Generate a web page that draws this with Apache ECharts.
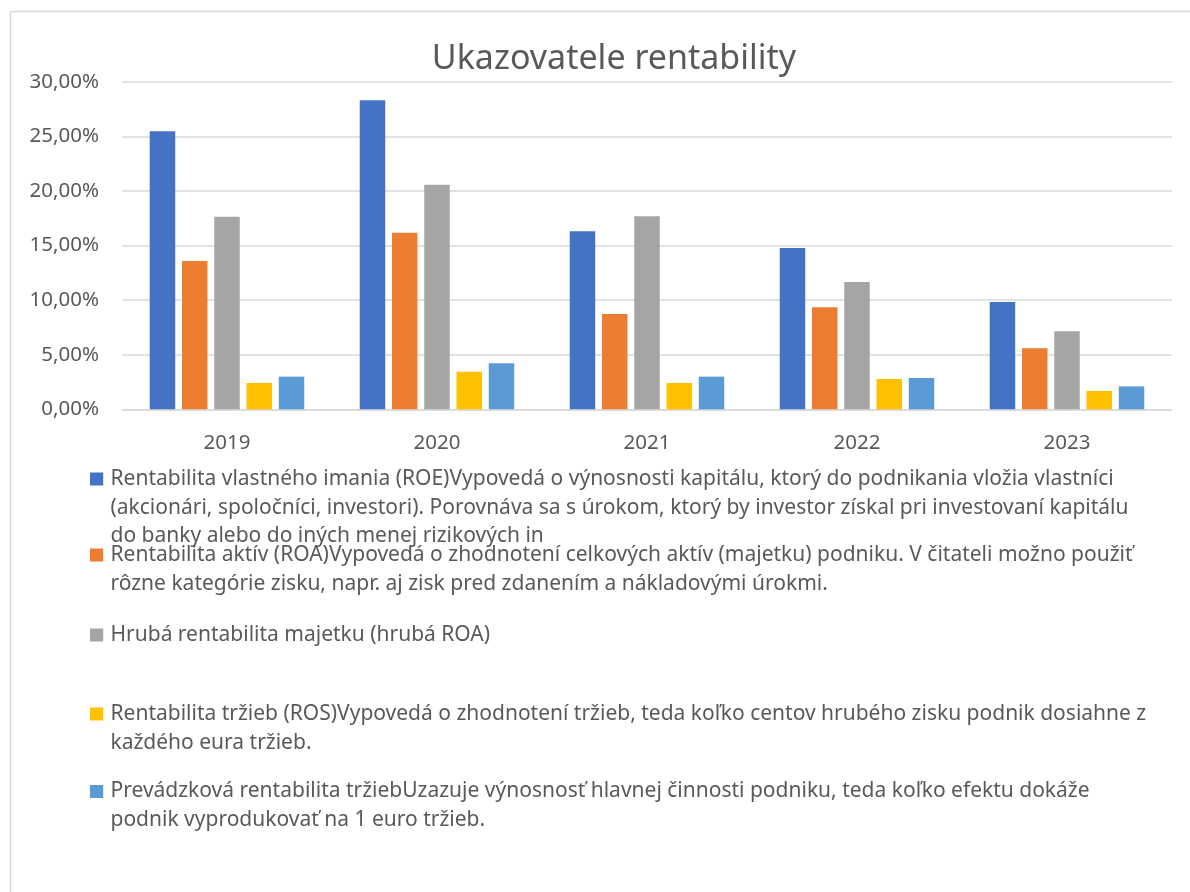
<!DOCTYPE html>
<html>
<head>
<meta charset="utf-8">
<script src="https://cdn.jsdelivr.net/npm/echarts@6/dist/echarts.min.js"></script>
<style>
html,body{margin:0;padding:0;background:#fff;}
#chart{width:1190px;height:892px;}
</style>
</head>
<body>
<div id="chart"></div>
<script>
const titleText = 'Ukazovatele rentability';
const categories = ['2019', '2020', '2021', '2022', '2023'];

const roe = [25.46, 28.30, 16.30, 14.77, 9.83];
const roa = [13.58, 16.17, 8.73, 9.34, 5.59];
const grossRoa = [17.64, 20.57, 17.67, 11.66, 7.14];
const ros = [2.41, 3.44, 2.41, 2.77, 1.68];
const operRos = [2.99, 4.21, 2.99, 2.87, 2.10];

const yTicks = { min: 0, max: 30, interval: 5 };

const legendLines1 = [
  'Rentabilita vlastného imania (ROE)Vypovedá o výnosnosti kapitálu, ktorý do podnikania vložia vlastníci',
  '(akcionári, spoločníci, investori). Porovnáva sa s úrokom, ktorý by investor získal pri investovaní kapitálu',
  'do banky alebo do iných menej rizikových in'
];
const legendLines2 = [
  'Rentabilita aktív (ROA)Vypovedá o zhodnotení celkových aktív (majetku) podniku. V čitateli možno použiť',
  'rôzne kategórie zisku, napr. aj zisk pred zdanením a nákladovými úrokmi.'
];
const legendLines3 = [
  'Hrubá rentabilita majetku (hrubá ROA)'
];
const legendLines4 = [
  'Rentabilita tržieb (ROS)Vypovedá o zhodnotení tržieb, teda koľko centov hrubého zisku podnik dosiahne z',
  'každého eura tržieb.'
];
const legendLines5 = [
  'Prevádzková rentabilita tržiebUzazuje výnosnosť hlavnej činnosti podniku, teda koľko efektu dokáže',
  'podnik vyprodukovať na 1 euro tržieb.'
];

const colors = ['#4472C4', '#ED7D31', '#A5A5A5', '#FFC000', '#5B9BD5'];
const FONT = '"Noto Sans", "Open Sans", sans-serif';
const TXT = '#595959';

const seriesDefs = [
  { lines: legendLines1, data: roe },
  { lines: legendLines2, data: roa },
  { lines: legendLines3, data: grossRoa },
  { lines: legendLines4, data: ros },
  { lines: legendLines5, data: operRos }
];
seriesDefs.forEach(d => { d.name = d.lines.join(' '); });

const LH = 28.6;
const SQ = 13.2;
const IW = 15.5;
const legendCenters = [479, 555, 635, 714, 791.5];
const wrapMap = {};
seriesDefs.forEach(d => { wrapMap[d.name] = d.lines.join('\n'); });

const legends = seriesDefs.map((d, i) => {
  const n = d.lines.length;
  const H = n * LH;
  const y0 = LH / 2 - SQ / 2;
  // square marker at the first text line; zero-area sub-paths stretch the icon box to the text block size
  const iconPath = 'path://M0,' + y0 + 'L' + SQ + ',' + y0 + 'L' + SQ + ',' + (y0 + SQ) + 'L0,' + (y0 + SQ) + 'Z'
    + 'M0,0L0.001,0L0,0Z' + 'M' + IW + ',' + H + 'L' + (IW - 0.001) + ',' + H + 'L' + IW + ',' + H + 'Z';
  return {
    data: [d.name],
    left: 90,
    top: legendCenters[i] - LH / 2,
    padding: 0,
    icon: iconPath,
    itemWidth: IW,
    itemHeight: H,
    selectedMode: false,
    formatter: name => wrapMap[name],
    textStyle: {
      fontFamily: FONT,
      fontSize: 21,
      color: TXT,
      lineHeight: LH
    }
  };
});

const chart = echarts.init(document.getElementById('chart'), null, { renderer: 'canvas' });
chart.setOption({
  backgroundColor: '#ffffff',
  animation: false,
  color: colors,
  textStyle: { fontFamily: FONT },
  graphic: [
    { type: 'line', shape: { x1: 10.5, y1: 11.5, x2: 10.5, y2: 892 }, style: { stroke: '#d9d9d9', lineWidth: 1.5 } },
    { type: 'line', shape: { x1: 10, y1: 11.5, x2: 1190, y2: 11.5 }, style: { stroke: '#d9d9d9', lineWidth: 1.5 } },
    { type: 'text', x: 614, y: 59, style: { text: titleText, fontFamily: FONT, fontSize: 34, fill: TXT, align: 'center', verticalAlign: 'middle' } }
  ],
  legend: legends,
  grid: { left: 122, right: 18, top: 81.7, bottom: 892 - 409.3, containLabel: false },
  xAxis: {
    type: 'category',
    data: categories,
    axisLine: { lineStyle: { color: '#d9d9d9', width: 1.5 } },
    axisTick: { show: false },
    axisLabel: { color: TXT, fontFamily: FONT, fontSize: 20.5, margin: 23 }
  },
  yAxis: {
    type: 'value',
    min: yTicks.min,
    max: yTicks.max,
    interval: yTicks.interval,
    axisLine: { show: false },
    axisTick: { show: false },
    splitLine: { lineStyle: { color: '#d9d9d9', width: 1.5 } },
    axisLabel: {
      color: TXT, fontFamily: FONT, fontSize: 20.5, margin: 23,
      formatter: v => v.toFixed(2).replace('.', ',') + '%'
    }
  },
  series: seriesDefs.map(d => ({
    type: 'bar',
    name: d.name,
    data: d.data,
    barWidth: 25.5,
    barGap: '26.5%'
  }))
});
</script>
</body>
</html>
